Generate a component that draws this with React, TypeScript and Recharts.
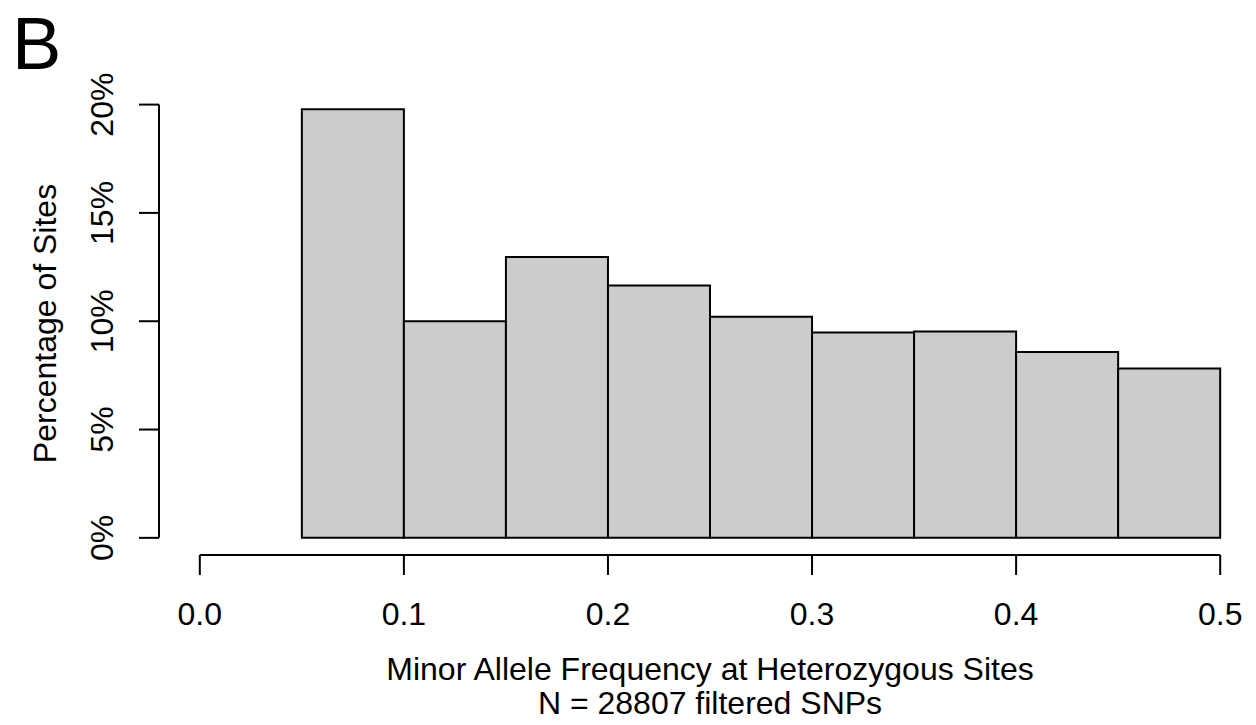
import React from 'react';
import { ComposedChart, XAxis, YAxis, Line, ReferenceArea, ReferenceLine, Label } from 'recharts';

// histogram bins (minor allele frequency) and share of sites in each, in percent
const binStart = [0.05, 0.1, 0.15, 0.2, 0.25, 0.3, 0.35, 0.4, 0.45];
const binEnd = [0.1, 0.15, 0.2, 0.25, 0.3, 0.35, 0.4, 0.45, 0.5];
const pctSites = [19.79, 10.0, 12.96, 11.65, 10.21, 9.48, 9.52, 8.58, 7.82];

const xTicks = [0, 0.1, 0.2, 0.3, 0.4, 0.5];
const yTicks = [0, 5, 10, 15, 20];

const panelLetter = 'B';
const xTitle = 'Minor Allele Frequency at Heterozygous Sites';
const xSubtitle = 'N = 28807 filtered SNPs';
const yTitle = 'Percentage of Sites';

const FONT = '"Liberation Sans", Arial, Helvetica, sans-serif';
const FS = 32;

const rows = binStart.map((lo, i) => ({ mid: (lo + binEnd[i]) / 2, pct: pctSites[i] }));

// base R pads the plot region by 4% of the data range on each side
const xLo = xTicks[0];
const xHi = xTicks[xTicks.length - 1];
const xMin = xLo - 0.04 * (xHi - xLo);
const xMax = xHi + 0.04 * (xHi - xLo);
const yTop = Math.max(...pctSites);
const yMin = -0.04 * yTop;
const yMax = yTop * 1.04;

function YTick({ x, y, payload }: any) {
  return (
    <text
      x={x}
      y={y}
      transform={`rotate(-90 ${x} ${y})`}
      textAnchor="middle"
      fontSize={FS}
      fontFamily={FONT}
      fill="#000"
    >
      {payload.value}%
    </text>
  );
}

function XTitle({ viewBox }: any) {
  const cx = viewBox.x + viewBox.width / 2;
  return (
    <g fontSize={FS} fontFamily={FONT} fill="#000">
      <text x={cx} y={viewBox.y + 125} textAnchor="middle">{xTitle}</text>
      <text x={cx} y={viewBox.y + 159} textAnchor="middle">{xSubtitle}</text>
    </g>
  );
}

function YTitle({ viewBox }: any) {
  const cy = viewBox.y + viewBox.height / 2;
  const bx = 56;
  return (
    <text
      x={bx}
      y={cy}
      transform={`rotate(-90 ${bx} ${cy})`}
      textAnchor="middle"
      fontSize={FS}
      fontFamily={FONT}
      fill="#000"
    >
      {yTitle}
    </text>
  );
}

export default function App() {
  return (
    <div
      style={{
        position: 'absolute',
        left: 0,
        top: 0,
        width: 1256,
        height: 725,
        overflow: 'hidden',
        background: '#fff',
      }}
    >
      <div
        style={{
          position: 'absolute',
          left: 12,
          top: 4,
          fontFamily: FONT,
          fontSize: 74,
          lineHeight: '80px',
          color: '#000',
        }}
      >
        {panelLetter}
      </div>
      <ComposedChart
        width={1266}
        height={725}
        data={rows}
        margin={{ top: 92, right: 5, bottom: 110, left: 0 }}
      >
        <XAxis
          dataKey="mid"
          type="number"
          domain={[xMin, xMax]}
          allowDataOverflow
          ticks={xTicks}
          interval={0}
          tickFormatter={(v: number) => v.toFixed(1)}
          axisLine={false}
          tickLine={{ stroke: '#000', strokeWidth: 2 }}
          tickSize={20}
          tickMargin={27}
          height={60}
          tick={{ fontSize: FS, fill: '#000', fontFamily: FONT }}
        >
          <Label content={XTitle} />
        </XAxis>
        <YAxis
          type="number"
          domain={[yMin, yMax]}
          allowDataOverflow
          ticks={yTicks}
          interval={0}
          axisLine={false}
          tickLine={{ stroke: '#000', strokeWidth: 2 }}
          tickSize={20}
          tickMargin={26}
          width={159}
          tick={<YTick />}
        >
          <Label content={YTitle} />
        </YAxis>
        {binStart.map((lo, i) => (
          <ReferenceArea
            key={lo}
            x1={lo}
            x2={binEnd[i]}
            y1={0}
            y2={pctSites[i]}
            fill="#cccccc"
            fillOpacity={1}
            stroke="#000"
            strokeWidth={2}
            ifOverflow="visible"
          />
        ))}
        <ReferenceLine
          segment={[{ x: xLo, y: yMin }, { x: xHi, y: yMin }]}
          stroke="#000"
          strokeWidth={2}
          ifOverflow="visible"
        />
        <ReferenceLine
          segment={[{ x: xMin, y: yTicks[0] }, { x: xMin, y: yTicks[yTicks.length - 1] }]}
          stroke="#000"
          strokeWidth={2}
          ifOverflow="visible"
        />
        <Line
          dataKey="pct"
          stroke="none"
          dot={false}
          activeDot={false}
          isAnimationActive={false}
          legendType="none"
        />
      </ComposedChart>
    </div>
  );
}
